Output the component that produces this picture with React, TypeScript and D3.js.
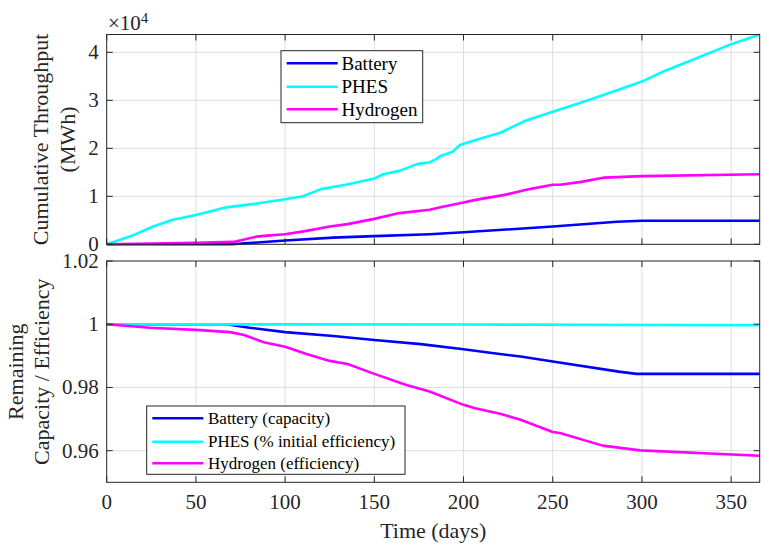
import React from 'react';
import * as d3 from 'd3';

// x axis (days)
const dayTicks = [0, 50, 100, 150, 200, 250, 300, 350];
const throughputTicks = [0, 10000, 20000, 30000, 40000];
const ratioTicks = [0.96, 0.98, 1, 1.02];

// top panel: cumulative throughput (MWh)
const phesDays = [0, 15, 26, 37, 50, 67, 84, 100, 110, 120, 134, 150, 155, 164, 174, 181, 185, 187, 194, 198, 205, 221, 226, 235, 250, 269, 286, 300, 312, 331, 350, 366];
const phesThroughput = [0, 1900, 3700, 5100, 6100, 7700, 8500, 9400, 10000, 11500, 12400, 13700, 14600, 15300, 16700, 17100, 17800, 18400, 19300, 20700, 21500, 23300, 24200, 25800, 27600, 29900, 32100, 33900, 36000, 38800, 41700, 43700];

const h2Days = [0, 50, 71, 84, 90, 100, 112, 125, 135, 150, 164, 181, 187, 200, 206, 223, 237, 250, 254, 266, 279, 300, 366];
const h2Throughput = [0, 300, 500, 1600, 1800, 2100, 2800, 3700, 4200, 5300, 6500, 7200, 7700, 8700, 9200, 10300, 11500, 12400, 12400, 13000, 13900, 14200, 14600];

const batDays = [0, 70, 100, 127, 150, 181, 200, 250, 286, 300, 366];
const batThroughput = [0, 0, 800, 1400, 1700, 2100, 2500, 3700, 4700, 4900, 4900];

// bottom panel: remaining capacity / efficiency
const batCapDays = [0, 67, 80, 100, 127, 150, 176, 200, 217, 232, 250, 287, 297, 366];
const batCapacity = [1, 1, 0.9989, 0.9975, 0.9963, 0.995, 0.9937, 0.9921, 0.9908, 0.9898, 0.9882, 0.985, 0.9843, 0.9843];

const phesEffDays = [0, 100, 200, 300, 366];
const phesEfficiency = [1, 0.99995, 0.9999, 0.99975, 0.99968];

const h2EffDays = [0, 24, 50, 69, 77, 88, 100, 112, 125, 135, 150, 168, 181, 200, 206, 221, 232, 250, 254, 278, 299, 366];
const h2Efficiency = [1, 0.9989, 0.9982, 0.9975, 0.9966, 0.9943, 0.9929, 0.9906, 0.9884, 0.9874, 0.9843, 0.9808, 0.9787, 0.9745, 0.9735, 0.9716, 0.9698, 0.9659, 0.9656, 0.9616, 0.9601, 0.9584];

const topLegend = ['Battery', 'PHES', 'Hydrogen'];
const bottomLegend = ['Battery (capacity)', 'PHES (% initial efficiency)', 'Hydrogen (efficiency)'];
const colors = ['#0000ff', '#00ffff', '#ff00ff'];

const FONT = "'Liberation Serif', 'Times New Roman', serif";
const AX = '#262626';
const GRID = '#dedede';

const left = 106.7;
const right = 759.7;
const top1 = 34.5;
const bottom1 = 244.3;
const top2 = 261;
const bottom2 = 482.3;

const x = d3.scaleLinear().domain([0, 366]).range([left, right]);
const yTop = d3.scaleLinear().domain([0, 43710]).range([bottom1, top1]);
const yBot = d3.scaleLinear().domain([0.95, 1.02]).range([bottom2, top2]);

type Series = { days: number[]; values: number[]; color: string };

function Panel({ y, ticks, fmt, series, xLabels }: {
  y: d3.ScaleLinear<number, number>;
  ticks: number[];
  fmt: (v: number) => string;
  series: Series[];
  xLabels: boolean;
}) {
  const [y0, y1] = y.range();
  const line = (s: Series) =>
    d3.line<number>()
      .x((_, i) => x(s.days[i]))
      .y((v) => y(v))(s.values) || '';
  return (
    <g>
      {dayTicks.filter((d) => d > 0).map((d) => (
        <line key={'gx' + d} x1={x(d)} x2={x(d)} y1={y0} y2={y1} stroke={GRID} strokeWidth={1} />
      ))}
      {ticks.filter((t) => y(t) > y1 + 1 && y(t) < y0 - 1).map((t) => (
        <line key={'gy' + t} x1={left} x2={right} y1={y(t)} y2={y(t)} stroke={GRID} strokeWidth={1} />
      ))}
      {series.map((s, i) => (
        <path key={i} d={line(s)} fill="none" stroke={s.color} strokeWidth={2.6} strokeLinejoin="round" />
      ))}
      <rect x={left} y={y1} width={right - left} height={y0 - y1} fill="none" stroke={AX} strokeWidth={1} />
      {dayTicks.map((d) => (
        <g key={'tx' + d}>
          <line x1={x(d)} x2={x(d)} y1={y0} y2={y0 - 6} stroke={AX} />
          <line x1={x(d)} x2={x(d)} y1={y1} y2={y1 + 6} stroke={AX} />
          {xLabels && (
            <text x={x(d)} y={y0 + 20} textAnchor="middle" dominantBaseline="central"
              fontFamily={FONT} fontSize={21} fill={AX}>{d}</text>
          )}
        </g>
      ))}
      {ticks.map((t) => (
        <g key={'ty' + t}>
          <line x1={left} x2={left + 6} y1={y(t)} y2={y(t)} stroke={AX} />
          <line x1={right} x2={right - 6} y1={y(t)} y2={y(t)} stroke={AX} />
          <text x={left - 8} y={y(t)} textAnchor="end" dominantBaseline="central"
            fontFamily={FONT} fontSize={21} fill={AX}>{fmt(t)}</text>
        </g>
      ))}
    </g>
  );
}

function Legend({ x0, y0, w, h, rows, labels, size, lineX, textX }: {
  x0: number; y0: number; w: number; h: number; rows: number[]; labels: string[];
  size: number; lineX: [number, number]; textX: number;
}) {
  return (
    <g>
      <rect x={x0} y={y0} width={w} height={h} fill="#fff" stroke={AX} strokeWidth={1} />
      {labels.map((l, i) => (
        <g key={l}>
          <line x1={lineX[0]} x2={lineX[1]} y1={rows[i]} y2={rows[i]} stroke={colors[i]} strokeWidth={2.6} />
          <text x={textX} y={rows[i]} dominantBaseline="central" fontFamily={FONT} fontSize={size} fill="#000">{l}</text>
        </g>
      ))}
    </g>
  );
}

export default function App() {
  const topSeries: Series[] = [
    { days: batDays, values: batThroughput, color: colors[0] },
    { days: phesDays, values: phesThroughput, color: colors[1] },
    { days: h2Days, values: h2Throughput, color: colors[2] },
  ];
  const botSeries: Series[] = [
    { days: batCapDays, values: batCapacity, color: colors[0] },
    { days: phesEffDays, values: phesEfficiency, color: colors[1] },
    { days: h2EffDays, values: h2Efficiency, color: colors[2] },
  ];
  const midTop = (top1 + bottom1) / 2;
  const midBot = (top2 + bottom2) / 2;
  return (
    <svg width={769} height={547} style={{ position: 'absolute', left: 0, top: 0, background: '#fff' }}>
      <rect width={769} height={547} fill="#fff" />
      <Panel y={yTop} ticks={throughputTicks} fmt={(v) => String(v / 10000)} series={topSeries} xLabels={false} />
      <Panel y={yBot} ticks={ratioTicks} fmt={(v) => (v === 1 ? '1' : String(v))} series={botSeries} xLabels={true} />

      <text x={108} y={30} fontFamily={FONT} fontSize={21} fill={AX}>
        ×10<tspan dy={-7} fontSize={15}>4</tspan>
      </text>

      <text transform={`translate(48,${midTop}) rotate(-90)`} textAnchor="middle" fontFamily={FONT} fontSize={22} fill={AX}>
        Cumulative Throughput
      </text>
      <text transform={`translate(75,${midTop}) rotate(-90)`} textAnchor="middle" fontFamily={FONT} fontSize={22} fill={AX}>
        (MWh)
      </text>
      <text transform={`translate(22.5,${midBot}) rotate(-90)`} textAnchor="middle" fontFamily={FONT} fontSize={22} fill={AX}>
        Remaining
      </text>
      <text transform={`translate(49,${midBot}) rotate(-90)`} textAnchor="middle" fontFamily={FONT} fontSize={22} fill={AX}>
        Capacity / Efficiency
      </text>
      <text x={(left + right) / 2} y={538} textAnchor="middle" fontFamily={FONT} fontSize={22} fill={AX}>
        Time (days)
      </text>

      <Legend x0={281} y0={50.7} w={141.7} h={72} rows={[63.3, 86.7, 109.3]} labels={topLegend}
        size={19} lineX={[286.7, 337.7]} textX={341.5} />
      <Legend x0={146.7} y0={406} w={258.3} h={68.3} rows={[418.3, 441.7, 463.3]} labels={bottomLegend}
        size={17} lineX={[152.3, 203.3]} textX={208} />
    </svg>
  );
}
